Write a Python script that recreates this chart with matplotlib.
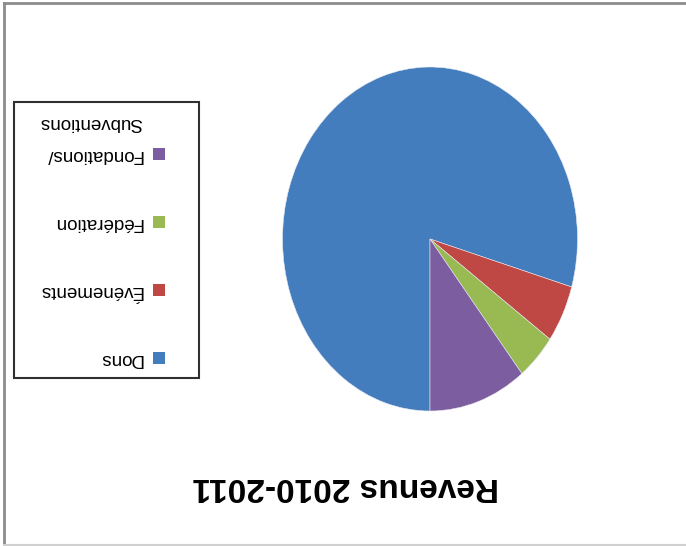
import matplotlib.pyplot as plt
from matplotlib.patches import Rectangle
from matplotlib.lines import Line2D

# Revenue share (percent)
categories = ['Dons', 'Événements', 'Fédération', 'Fondations/\nSubventions']
shares = [79.5, 5.4, 4.4, 10.7]
colors = ['#437DBD', '#BF4845', '#99B952', '#7C5D9F']
title = 'Revenus 2010-2011'

W, H = 686, 546
fig = plt.figure(figsize=(W / 100, H / 100), dpi=100)


def fx(x):
    return x / W


def fy(y):
    return 1 - y / H


# outer chart frame
fig.add_artist(Line2D([fx(4), fx(4)], [fy(3), fy(545)], color='#8c8c8c', lw=2))
fig.add_artist(Line2D([fx(4), fx(686)], [fy(3), fy(3)], color='#8c8c8c', lw=2))
fig.add_artist(Line2D([fx(4), fx(686)], [fy(545), fy(545)], color='#d0d0d0', lw=1.5))

# pie is drawn upside down and slightly stretched vertically
ax = fig.add_axes([fx(282.5), fy(411), fx(577.5) - fx(282.5), fy(67) - fy(411)])
ax.pie(shares, colors=colors, startangle=270, counterclock=False,
       wedgeprops=dict(edgecolor='#e8e8f0', linewidth=0.4))
ax.set_aspect('auto')
ax.set_xlim(-1, 1)
ax.set_ylim(-1, 1)
ax.axis('off')

# title (rotated 180)
fig.text(fx(346), fy(486), title, rotation=180, ha='center', va='center',
         fontsize=24, fontweight='bold', family=['Liberation Sans', 'DejaVu Sans'])

# legend box
fig.add_artist(Rectangle((fx(14), fy(378)), fx(199) - fx(14), fy(102) - fy(378),
                         transform=fig.transFigure, fill=False,
                         edgecolor='#303030', lw=1.5))

# legend entries, stacked from the bottom upward (rotated 180)
y0, step, line_gap = 358, 68, 31
for i, (lab, col) in enumerate(zip(categories, colors)):
    yc = y0 - i * step
    fig.add_artist(Rectangle((fx(153), fy(yc + 6)), fx(12), 12 / H,
                             transform=fig.transFigure, color=col, lw=0))
    for j, line in enumerate(lab.split('\n')):
        fig.text(fx(142), fy(yc - j * line_gap), line, rotation=180,
                 ha='right', va='center', fontsize=13.5,
                 family=['Liberation Sans', 'DejaVu Sans'])

fig.savefig('out.png', dpi=100)
